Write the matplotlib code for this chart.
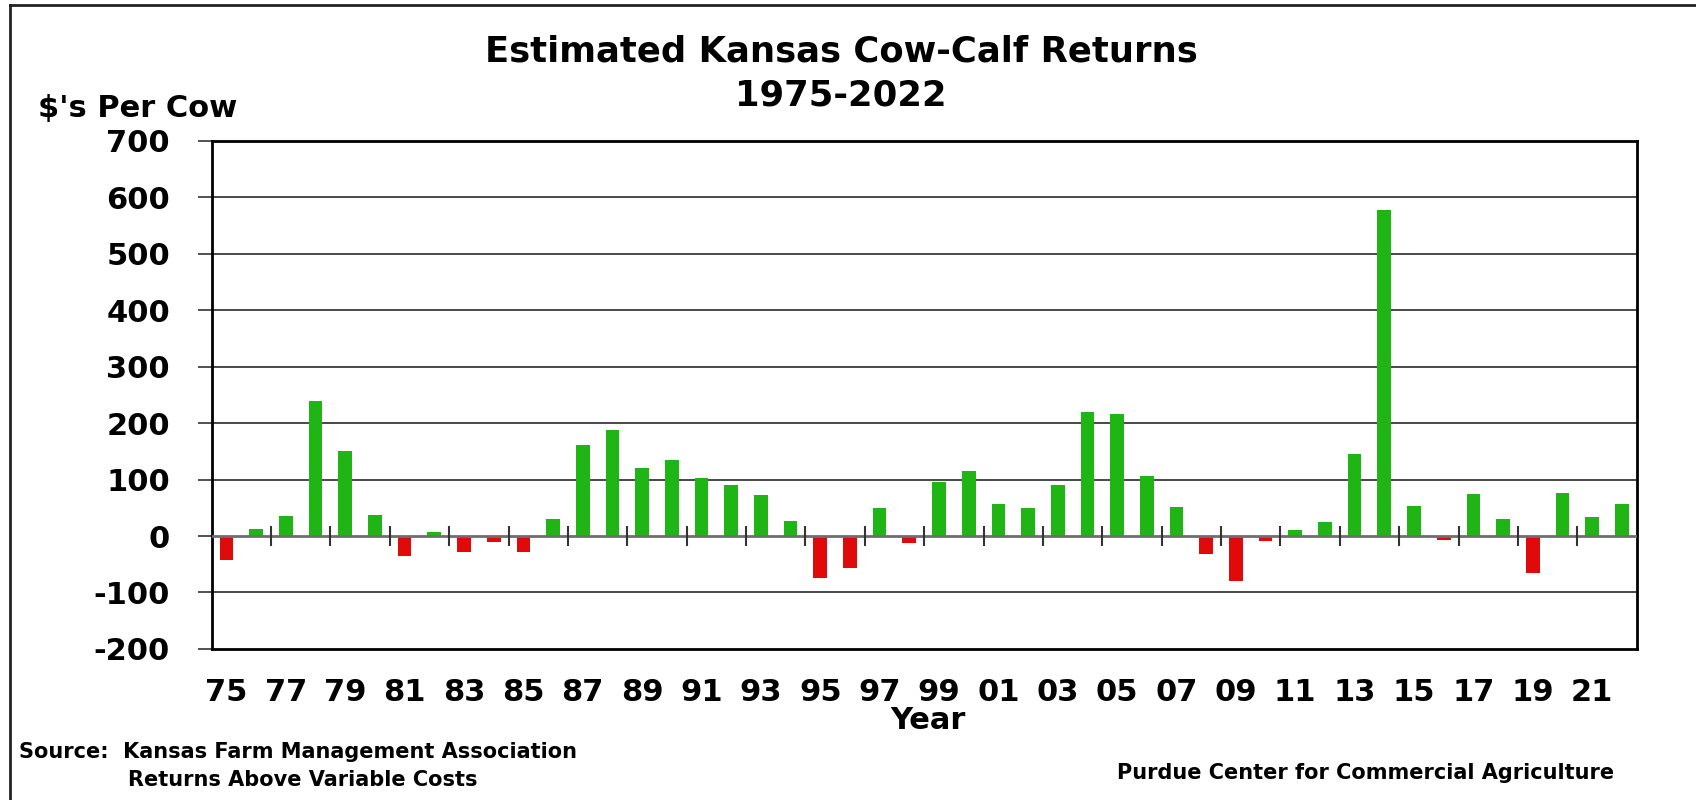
import numpy as np
import matplotlib
matplotlib.use("Agg")
import matplotlib.pyplot as plt

# datos (dolares por vaca)
anios = list(range(1975, 2023))
retornos = [-43, 12, 36, 239, 151, 38, -36, 8, -28, -10,
            -29, 31, 162, 188, 121, 135, 103, 90, 72, 26,
            -74, -57, 49, -12, 95, 115, 57, 49, 90, 219,
            216, 106, 51, -32, -79, -8, 11, 24, 146, 578,
            54, -7, 74, 31, -66, 76, 34, 56]
etiquetas_x = [str(a)[2:] for a in anios]
yticks = [-200, -100, 0, 100, 200, 300, 400, 500, 600, 700]

verde = '#1fb515'
rojo = '#e00a0a'

plt.rcParams['font.family'] = ['DejaVu Sans']
plt.rcParams['font.weight'] = 'bold'

fig = plt.figure(figsize=(16.96, 8.0), dpi=100)
ax = fig.add_axes([0.1248, 0.1888, 0.8402, 0.6353])

x = np.arange(len(anios))
colores = [verde if v >= 0 else rojo for v in retornos]
ax.bar(x, retornos, width=0.46, color=colores, zorder=3)

# lineas de la cuadricula
for y in yticks[1:-1]:
    if y == 0:
        continue
    ax.axhline(y, color='#3a3a3a', lw=1.3, zorder=1)
ax.axhline(0, color='#6e6e6e', lw=2, zorder=4)

# marcas sobre la linea del cero, entre pares de anios
marcas = x[1:-2:2] + 0.5
ax.vlines(marcas, -18, 18, color='#333333', lw=1.5, zorder=5)

ax.set_xlim(-0.5, len(anios) - 0.5)
ax.set_ylim(-200, 700)
ax.set_yticks(yticks)
ax.set_yticklabels([str(v) for v in yticks], fontsize=22, fontweight='bold')
ax.set_xticks(x[::2])
ax.set_xticklabels(etiquetas_x[::2], fontsize=22, fontweight='bold')
ax.tick_params(axis='x', length=0, pad=21)
ax.tick_params(axis='y', length=10, width=1.2, color='#333333', pad=20)
for s in ax.spines.values():
    s.set_linewidth(2)
    s.set_color('black')

fig.text(0.496, 0.936, 'Estimated Kansas Cow-Calf Returns', ha='center', va='center',
         fontsize=25.5, fontweight='bold')
fig.text(0.496, 0.881, '1975-2022', ha='center', va='center', fontsize=25.5, fontweight='bold')
fig.text(0.0224, 0.865, "$'s Per Cow", ha='left', va='center', fontsize=22, fontweight='bold')
fig.text(0.547, 0.099, 'Year', ha='center', va='center', fontsize=22, fontweight='bold')
fig.text(0.0112, 0.06, 'Source:  Kansas Farm Management Association', ha='left', va='center',
         fontsize=15, fontweight='bold')
fig.text(0.0755, 0.025, 'Returns Above Variable Costs', ha='left', va='center',
         fontsize=15, fontweight='bold')
fig.text(0.952, 0.034, 'Purdue Center for Commercial Agriculture', ha='right', va='center',
         fontsize=15, fontweight='bold')

# borde exterior (solo arriba e izquierda se ven)
fig.add_artist(plt.Line2D([10 / 1696, 10 / 1696], [0, 1 - 5 / 800], color='#222222', lw=2))
fig.add_artist(plt.Line2D([10 / 1696, 1], [1 - 5 / 800, 1 - 5 / 800], color='#222222', lw=2))

fig.savefig('out.png', dpi=100)
